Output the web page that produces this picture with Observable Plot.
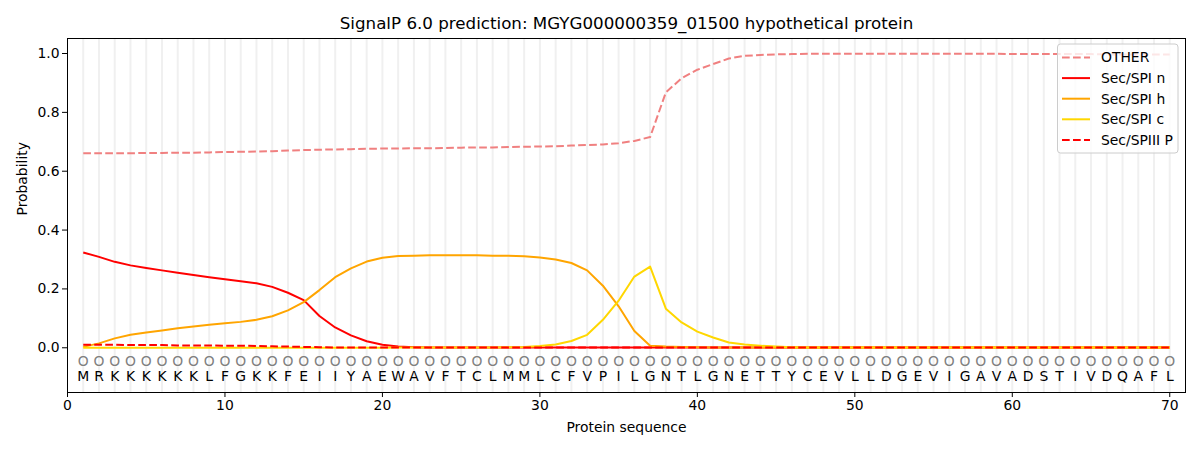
<!DOCTYPE html>
<html>
<head>
<meta charset="utf-8">
<script src="https://cdn.jsdelivr.net/npm/d3@7"></script>
<script src="https://cdn.jsdelivr.net/npm/@observablehq/plot@0.6"></script>
<style>
  html, body { margin: 0; padding: 0; background: #fff; }
  #chart svg { font-family: "DejaVu Sans", sans-serif; }
</style>
</head>
<body>
<div id="chart"></div>
<script>
const title = "SignalP 6.0 prediction: MGYG000000359_01500 hypothetical protein";
const sequence = "MRKKKKKKLFGKKFEIIYAEWAVFTCLMMLCFVPILGNTLGNETTYCEVLLDGEVIGAVADSTIVDQAFL".split("");
const xTicks = [0, 10, 20, 30, 40, 50, 60, 70];
const yTicks = [0, 0.2, 0.4, 0.6, 0.8, 1.0];

const other = [0.661,0.661,0.661,0.661,0.662,0.662,0.663,0.663,0.664,0.665,
               0.666,0.667,0.668,0.670,0.672,0.673,0.674,0.675,0.676,0.677,
               0.677,0.678,0.678,0.679,0.680,0.681,0.681,0.682,0.683,0.684,
               0.685,0.687,0.689,0.691,0.695,0.703,0.716,0.868,0.916,0.945,
               0.964,0.983,0.992,0.995,0.997,0.998,0.999,0.999,0.999,0.999,
               0.999,0.999,0.999,0.999,0.999,0.999,0.999,0.999,0.999,0.998,
               0.998,0.998,0.998,0.998,0.998,0.997,0.997,0.997,0.997,0.997];
const secN = [0.324,0.309,0.292,0.280,0.271,0.263,0.255,0.247,0.240,0.233,
              0.226,0.219,0.207,0.187,0.162,0.108,0.069,0.042,0.022,0.010,
              0.004,0.002,0.001,0.001,0.001,0.001,0.001,0.001,0.001,0.001,
              0.001,0.001,0.001,0.001,0.001,0.001,0.001,0.001,0.001,0.001,
              0.001,0.001,0.001,0.001,0.001,0.001,0.001,0.001,0.001,0.001,
              0.001,0.001,0.001,0.001,0.001,0.001,0.001,0.001,0.001,0.001,
              0.001,0.001,0.001,0.001,0.001,0.001,0.001,0.001,0.001,0.001];
const secH = [0.003,0.015,0.032,0.044,0.052,0.059,0.066,0.072,0.078,0.083,
              0.088,0.095,0.107,0.127,0.155,0.196,0.240,0.270,0.293,0.306,
              0.312,0.313,0.314,0.314,0.314,0.314,0.313,0.313,0.311,0.307,
              0.300,0.288,0.263,0.211,0.141,0.057,0.007,0.004,0.003,0.002,
              0.001,0.001,0.001,0.001,0.001,0.001,0.001,0.001,0.001,0.001,
              0.001,0.001,0.001,0.001,0.001,0.001,0.001,0.001,0.001,0.001,
              0.001,0.001,0.001,0.001,0.001,0.001,0.001,0.001,0.001,0.001];
const secC = [0.000,0.000,0.000,0.000,0.000,0.000,0.000,0.000,0.000,0.000,
              0.000,0.000,0.000,0.000,0.000,0.000,0.000,0.000,0.000,0.000,
              0.001,0.001,0.001,0.001,0.001,0.001,0.001,0.002,0.003,0.006,
              0.011,0.023,0.044,0.095,0.160,0.242,0.276,0.133,0.086,0.055,
              0.035,0.018,0.011,0.007,0.004,0.002,0.001,0.001,0.001,0.001,
              0.001,0.001,0.001,0.001,0.001,0.001,0.001,0.001,0.001,0.001,
              0.001,0.001,0.001,0.001,0.001,0.001,0.001,0.001,0.001,0.001];
const secP = [0.010,0.010,0.010,0.009,0.009,0.009,0.008,0.008,0.008,0.007,
              0.007,0.006,0.005,0.004,0.003,0.002,0.001,0.001,0.001,0.001,
              0.001,0.001,0.001,0.001,0.001,0.001,0.001,0.001,0.001,0.001,
              0.001,0.001,0.001,0.001,0.001,0.001,0.001,0.001,0.001,0.001,
              0.001,0.001,0.001,0.001,0.001,0.001,0.001,0.001,0.001,0.001,
              0.001,0.001,0.001,0.001,0.001,0.001,0.001,0.001,0.001,0.001,
              0.001,0.001,0.001,0.001,0.001,0.001,0.001,0.001,0.001,0.001];

const seriesNames = ["OTHER", "Sec/SPI n", "Sec/SPI h", "Sec/SPI c", "Sec/SPIII P"];
const seriesColors = ["#f08080", "red", "orange", "gold", "red"];
const seriesDash = ["7.7,3.3", null, null, null, "7.7,3.3"];
const seriesValues = [other, secN, secH, secC, secP];

const positions = sequence.map((_, i) => i + 1);
const residues = sequence.map((aa, i) => ({pos: i + 1, aa}));

const lineMarks = seriesValues.map((vals, k) =>
  Plot.line(vals.map((v, i) => ({pos: i + 1, p: v})), {
    x: "pos", y: "p",
    stroke: seriesColors[k],
    strokeWidth: 2,
    strokeDasharray: seriesDash[k] || undefined,
    strokeLinejoin: "round",
    strokeLinecap: "butt"
  })
);

const chart = Plot.plot({
  width: 1200,
  height: 450,
  marginLeft: 67,
  marginRight: 15,
  marginTop: 38,
  marginBottom: 58,
  style: {fontFamily: "DejaVu Sans, sans-serif", fontSize: "13.9px", color: "black", background: "white"},
  x: {domain: [0, 71]},
  y: {domain: [-0.152, 1.051]},
  marks: [
    Plot.ruleX(positions, {stroke: "#f0f0f0", strokeWidth: 2}),
    ...lineMarks,
    Plot.text(residues, {x: "pos", y: () => -0.047, text: () => "O", fill: "#808080", fontSize: 13.9}),
    Plot.text(residues, {x: "pos", y: () => -0.098, text: "aa", fill: "black", fontSize: 13.9}),
    Plot.frame({stroke: "black", strokeWidth: 1}),
    Plot.axisX({ticks: xTicks, tickSize: 5, tickPadding: 3, label: null, tickFormat: d3.format("d")}),
    Plot.axisY({ticks: yTicks, tickSize: 5, tickPadding: 3, label: null, tickFormat: d3.format(".1f")}),
    Plot.text([title], {frameAnchor: "top", lineAnchor: "middle", dy: -15, fontSize: 16.7, fill: "black"}),
    Plot.text(["Protein sequence"], {frameAnchor: "bottom", lineAnchor: "middle", dy: 35, fontSize: 13.9, fill: "black"}),
    Plot.text(["Probability"], {frameAnchor: "left", dx: -45, rotate: -90, fontSize: 13.9, fill: "black"})
  ]
});

document.getElementById("chart").appendChild(chart);

// Legend (upper right, inside the axes)
const svg = d3.select(chart);
const lg = svg.append("g")
  .attr("font-family", "DejaVu Sans, sans-serif")
  .attr("font-size", "13.9px")
  .attr("text-anchor", "start");
lg.append("rect")
  .attr("x", 1057.5).attr("y", 44).attr("width", 120.5).attr("height", 109)
  .attr("rx", 3).attr("fill", "white").attr("fill-opacity", 0.8)
  .attr("stroke", "#cccccc").attr("stroke-width", 1);
seriesNames.forEach((name, k) => {
  const yy = 57.5 + k * 20.6;
  lg.append("line")
    .attr("x1", 1062).attr("x2", 1090).attr("y1", yy).attr("y2", yy)
    .attr("stroke", seriesColors[k]).attr("stroke-width", 2)
    .attr("stroke-dasharray", seriesDash[k]);
  lg.append("text")
    .attr("x", 1101).attr("y", yy).attr("dy", "0.35em")
    .attr("text-anchor", "start")
    .attr("fill", "black").text(name);
});
</script>
</body>
</html>
